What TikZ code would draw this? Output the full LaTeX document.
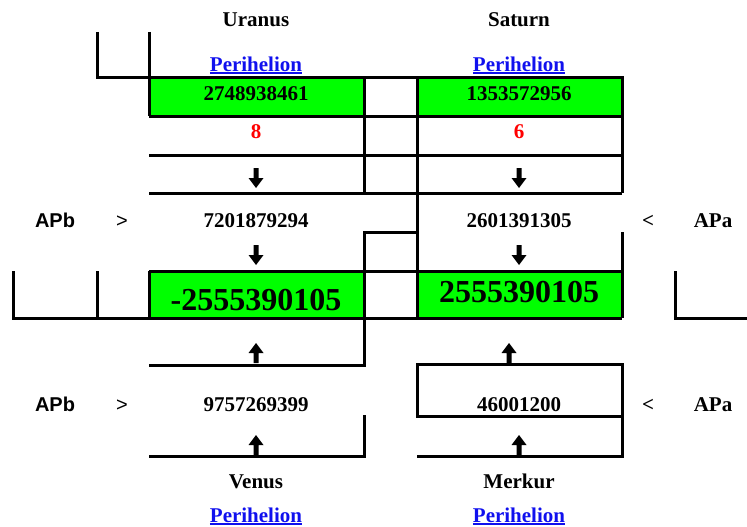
\documentclass[tikz,border=0pt]{standalone}
\usepackage{fontspec}
\setmainfont{Liberation Serif}
\setsansfont{Liberation Sans}
\definecolor{linkblue}{RGB}{16,16,238}
\definecolor{cellgreen}{RGB}{0,255,0}
\newcommand{\ulink}[1]{\setbox0=\hbox{#1}\rlap{\copy0}\rule[-3pt]{\wd0}{2pt}}
\begin{document}
\begin{tikzpicture}[x=1pt,y=-1pt,line width=3pt,
    txt/.style={anchor=base,inner sep=0pt,font=\fontsize{21}{25}\selectfont\bfseries},
    bigtxt/.style={anchor=base,inner sep=0pt,font=\fontsize{32}{38}\selectfont\bfseries},
    link/.style={txt,text=linkblue},
    sumtxt/.style={txt,text=red},
    sanstxt/.style={anchor=base,inner sep=0pt,font=\fontsize{20}{24}\selectfont\sffamily},
    downarrow/.pic={\fill (-2.5,-10) -- (2.5,-10) -- (2.5,0) -- (7.5,0) -- (0,10) -- (-7.5,0) -- (-2.5,0) -- cycle;},
    uparrow/.pic={\fill (-2.5,10) -- (2.5,10) -- (2.5,0) -- (7.5,0) -- (0,-10) -- (-7.5,0) -- (-2.5,0) -- cycle;}]
      \useasboundingbox (0,0) rectangle (747,527);
      % green cells
      \fill[cellgreen] (149,78) rectangle (364,116);
      \fill[cellgreen] (417,78) rectangle (622,116);
      \fill[cellgreen] (149,271) rectangle (364,318);
      \fill[cellgreen] (417,271) rectangle (622,318);
      % grid lines
      \draw (97,32) -- (97,78) -- (622,78) -- (622,193);
      \draw (149,32) -- (149,116);
      \draw (149,116) -- (622,116);
      \draw (149,155) -- (622,155);
      \draw (149,193) -- (622,193);
      \draw (364,78) -- (364,193);
      \draw (417,78) -- (417,318);
      \draw (149,365) -- (364,365) -- (364,232) -- (417,232);
      \draw (622,232) -- (622,318);
      \draw (149,271) -- (622,271);
      \draw (149,271) -- (149,318);
      \draw (13,271) -- (13,318) -- (622,318);
      \draw (97,271) -- (97,318);
      \draw (675,271) -- (675,318) -- (747,318);
      \draw (417,364) rectangle (622,416);
      \draw (622,416) -- (622,456) -- (417,456);
      \draw (364,415) -- (364,456) -- (149,456);
      % upper planets
      \draw (256,27) node[txt] (uranus) {Uranus};
      \draw (519,27) node[txt] (saturn) {Saturn};
      \draw (256,71) node[link] (uperi) {\ulink{Perihelion}};
      \draw (519,71) node[link] (speri) {\ulink{Perihelion}};
      \draw (256,100) node[txt] (uval) {2748938461};
      \draw (519,100) node[txt] (sval) {1353572956};
      \draw (256,138) node[sumtxt] (usum) {8};
      \draw (519,138) node[sumtxt] (ssum) {6};
      \pic at (256,178) {downarrow};
      \pic at (519,178) {downarrow};
      % APb / APa rows
      \draw (55,227) node[sanstxt,font=\fontsize{20}{24}\selectfont\sffamily\bfseries] (apbtop) {APb};
      \draw (122,227) node[sanstxt] (gttop) {>};
      \draw (256,227) node[txt] (uap) {7201879294};
      \draw (519,227) node[txt] (sap) {2601391305};
      \draw (648,227) node[txt] (lttop) {<};
      \draw (713,227) node[txt] (apatop) {APa};
      \pic at (256,255) {downarrow};
      \pic at (519,255) {downarrow};
      \draw (256,310) node[bigtxt] (udiff) {-2555390105};
      \draw (519,302) node[bigtxt] (sdiff) {2555390105};
      \pic at (256,353) {uparrow};
      \pic at (509,353) {uparrow};
      \draw (55,411) node[sanstxt,font=\fontsize{20}{24}\selectfont\sffamily\bfseries] (apbbot) {APb};
      \draw (122,411) node[sanstxt] (gtbot) {>};
      \draw (256,411) node[txt] (vap) {9757269399};
      \draw (519,411) node[txt] (map) {46001200};
      \draw (648,411) node[txt] (ltbot) {<};
      \draw (713,411) node[txt] (apabot) {APa};
      \pic at (256,445) {uparrow};
      \pic at (519,445) {uparrow};
      % lower planets
      \draw (256,488) node[txt] (venus) {Venus};
      \draw (519,488) node[txt] (merkur) {Merkur};
      \draw (256,522) node[link] (vperi) {\ulink{Perihelion}};
      \draw (519,522) node[link] (mperi) {\ulink{Perihelion}};
    \end{tikzpicture}
\end{document}
